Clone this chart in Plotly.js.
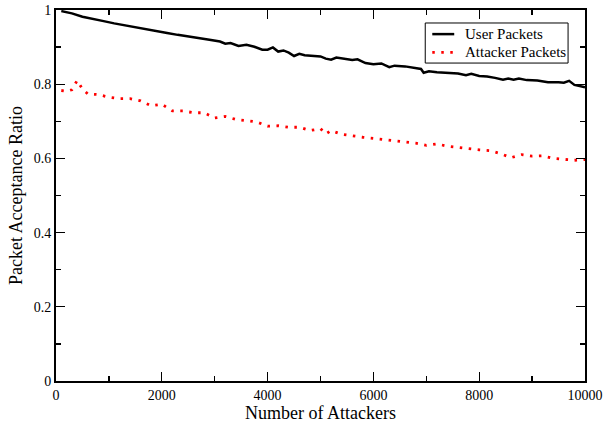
<!DOCTYPE html>
<html>
<head>
<meta charset="utf-8">
<script src="https://cdn.plot.ly/plotly-3.0.1.min.js"></script>
<style>html,body{margin:0;padding:0;background:#fff;}#chart{width:603px;height:423px;}</style>
</head>
<body>
<div id="chart"></div>
<script>
const userX = [100,300,500,700,900,1100,1300,1500,1700,1900,2100,2300,2500,2700,2900,3100,3200,3300,3450,3600,3750,3900,4000,4100,4200,4300,4400,4500,4600,4700,4850,5000,5100,5200,5300,5450,5600,5700,5850,6000,6150,6300,6400,6600,6800,6900,6950,7050,7200,7400,7600,7750,7850,8000,8150,8300,8450,8550,8650,8750,8900,9100,9300,9500,9600,9700,9800,9900,10000];
const userY = [0.997,0.991,0.982,0.977,0.970,0.964,0.959,0.955,0.948,0.944,0.938,0.933,0.929,0.926,0.920,0.915,0.909,0.911,0.903,0.906,0.901,0.893,0.893,0.899,0.888,0.891,0.885,0.876,0.882,0.878,0.876,0.875,0.869,0.866,0.872,0.868,0.865,0.867,0.857,0.854,0.856,0.846,0.850,0.848,0.843,0.841,0.831,0.835,0.832,0.830,0.829,0.824,0.828,0.822,0.821,0.817,0.812,0.815,0.812,0.815,0.811,0.810,0.805,0.805,0.804,0.809,0.798,0.795,0.792];

const attX = [100,200,300,400,500,600,800,1000,1200,1400,1600,1800,2000,2200,2400,2600,2800,3000,3200,3400,3600,3800,4000,4200,4400,4600,4800,5000,5100,5200,5400,5600,5800,6000,6200,6400,6600,6800,7000,7200,7400,7600,7800,8000,8200,8400,8600,8800,9000,9200,9400,9600,9800,10000];
const attY = [0.783,0.781,0.785,0.810,0.787,0.774,0.772,0.765,0.761,0.761,0.755,0.742,0.746,0.728,0.728,0.723,0.723,0.709,0.713,0.705,0.702,0.698,0.687,0.688,0.684,0.684,0.675,0.680,0.666,0.675,0.665,0.660,0.657,0.654,0.651,0.647,0.644,0.641,0.635,0.639,0.633,0.629,0.627,0.623,0.621,0.613,0.602,0.610,0.606,0.607,0.600,0.597,0.595,0.597];

const seriesNames = ["User Packets", "Attacker Packets"];
const xTitle = "Number of Attackers";
const yTitle = "Packet Acceptance Ratio";

const font = "Liberation Serif, Times New Roman, serif";
const colors = ["#000000", "#ff0000"];
const dotDash = "2.5px,6.5px";

const traces = [
  {x: userX, y: userY, name: seriesNames[0], mode: "lines", type: "scatter",
   line: {color: colors[0], width: 2.5}},
  {x: attX, y: attY, name: seriesNames[1], mode: "lines", type: "scatter",
   line: {color: colors[1], width: 2.8, dash: dotDash}}
];

// Manual boxed legend, in paper coordinates
const lg = {x0: 0.698, x1: 0.968, y0: 0.857, y1: 0.965};
const rows = [0.935, 0.886];
const shapes = [
  {type: "rect", xref: "paper", yref: "paper", x0: lg.x0, x1: lg.x1, y0: lg.y0, y1: lg.y1,
   line: {color: "#000", width: 1}, fillcolor: "#fff", layer: "above"},
  {type: "line", xref: "paper", yref: "paper", x0: 0.7113, x1: 0.7528, y0: rows[0], y1: rows[0],
   line: {color: colors[0], width: 2.5}, layer: "above"},
  {type: "line", xref: "paper", yref: "paper", x0: 0.7113, x1: 0.7585, y0: rows[1], y1: rows[1],
   line: {color: colors[1], width: 2.8, dash: dotDash}, layer: "above"}
];
const annotations = seriesNames.map((n, i) => ({
  xref: "paper", yref: "paper", x: 0.772, y: rows[i], xanchor: "left", yanchor: "middle",
  text: n, showarrow: false, font: {family: font, size: 15, color: "#000"}, borderpad: 0
}));

const axisCommon = {
  showgrid: false, zeroline: false, showline: true, linecolor: "#000", linewidth: 2,
  mirror: "allticks", ticks: "inside", ticklen: 9, tickwidth: 1.3, tickcolor: "#000",
  tickfont: {family: font, size: 14, color: "#000"}, ticklabeloverflow: "allow"
};

const layout = {
  width: 603, height: 423,
  margin: {l: 56, r: 18, t: 10, b: 42},
  paper_bgcolor: "#fff", plot_bgcolor: "#fff",
  font: {family: font, color: "#000"},
  showlegend: false,
  shapes: shapes,
  annotations: annotations,
  xaxis: Object.assign({}, axisCommon, {
    range: [0, 10000], tickmode: "linear", tick0: 0, dtick: 2000, tickformat: "d",
    minor: {dtick: 1000, ticklen: 5, tickwidth: 1.3, tickcolor: "#000", ticks: "inside"},
    title: {text: xTitle, font: {family: font, size: 18, color: "#000"}, standoff: 2}
  }),
  yaxis: Object.assign({}, axisCommon, {
    range: [0, 1], tickmode: "linear", tick0: 0, dtick: 0.2,
    minor: {dtick: 0.1, ticklen: 5, tickwidth: 1.3, tickcolor: "#000", ticks: "inside"},
    title: {text: yTitle, font: {family: font, size: 18, color: "#000"}, standoff: 6}
  })
};

Plotly.newPlot("chart", traces, layout, {displayModeBar: false, staticPlot: true});
</script>
</body>
</html>
